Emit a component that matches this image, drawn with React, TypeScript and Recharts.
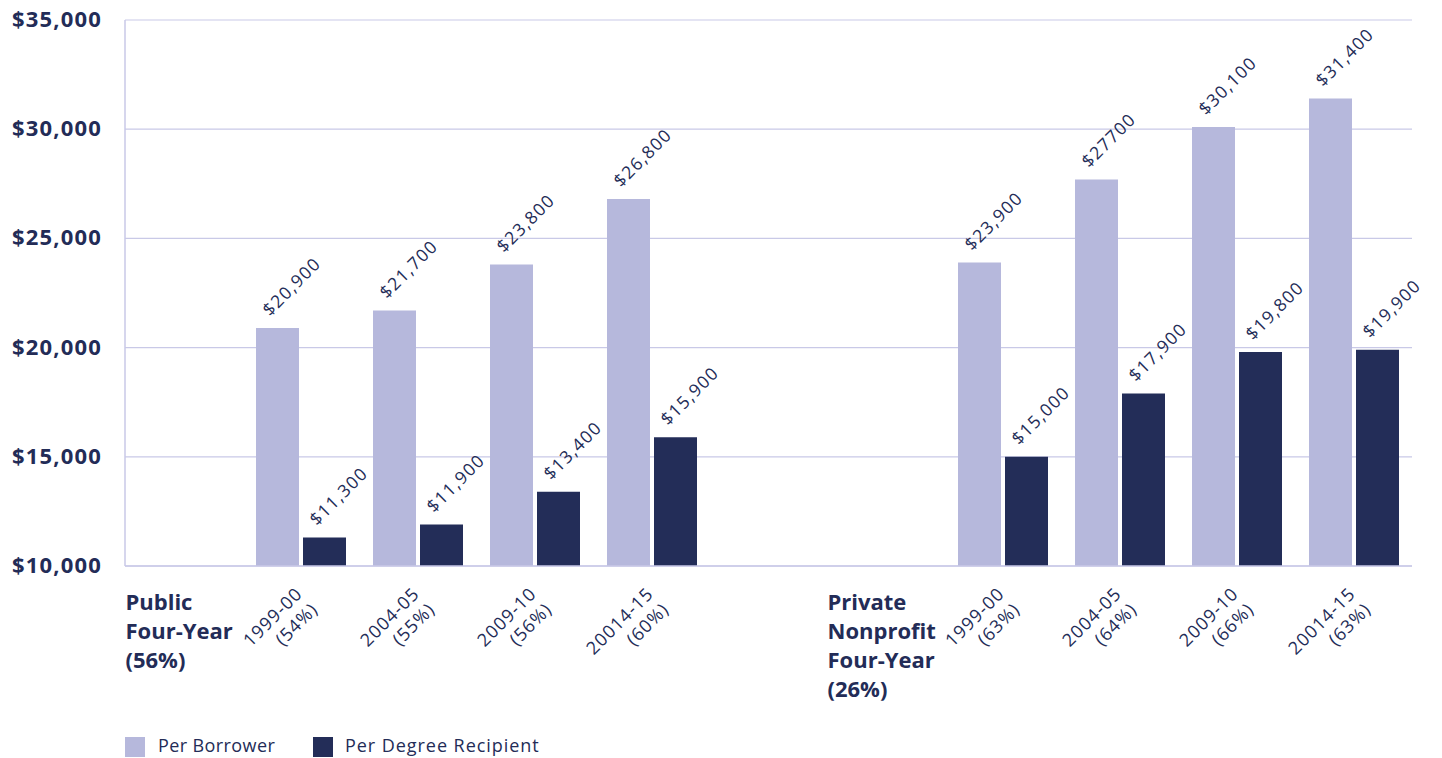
import React from 'react';
import { BarChart, Bar, XAxis, YAxis, CartesianGrid, LabelList, Legend } from 'recharts';

const periods = ['1999-00', '2004-05', '2009-10', '20014-15'];
const publicShares = ['(54%)', '(55%)', '(56%)', '(60%)'];
const privateShares = ['(63%)', '(64%)', '(66%)', '(63%)'];
const publicGroupLines = ['Public', 'Four-Year', '(56%)'];
const privateGroupLines = ['Private', 'Nonprofit', 'Four-Year', '(26%)'];

const publicPerBorrower = [20900, 21700, 23800, 26800];
const publicPerDegree = [11300, 11900, 13400, 15900];
const privatePerBorrower = [23900, 27700, 30100, 31400];
const privatePerDegree = [15000, 17900, 19800, 19900];

const publicBorrowerText = ['$20,900', '$21,700', '$23,800', '$26,800'];
const publicDegreeText = ['$11,300', '$11,900', '$13,400', '$15,900'];
const privateBorrowerText = ['$23,900', '$27700', '$30,100', '$31,400'];
const privateDegreeText = ['$15,000', '$17,900', '$19,800', '$19,900'];

const yTicks = [10000, 15000, 20000, 25000, 30000, 35000];
const yTickText = ['$10,000', '$15,000', '$20,000', '$25,000', '$30,000', '$35,000'];

const seriesNames = ['Per Borrower', 'Per Degree Recipient'];

const LIGHT = '#b6b8dc';
const DARK = '#232d58';
const TEXT = '#232c57';
const GRID = '#c9c9e7';
const FONT = "'Open Sans', sans-serif";

type Row = {
  key: string;
  kind: 'group' | 'period' | 'empty';
  lines?: string[];
  period?: string;
  share?: string;
  borrower: number | null;
  degree: number | null;
  borrowerText?: string;
  degreeText?: string;
};

const rows: Row[] = [
  { key: 'g-public', kind: 'group', lines: publicGroupLines, borrower: null, degree: null },
  ...periods.map((p, i) => ({
    key: 'pub-' + p,
    kind: 'period' as const,
    period: p,
    share: publicShares[i],
    borrower: publicPerBorrower[i],
    degree: publicPerDegree[i],
    borrowerText: publicBorrowerText[i],
    degreeText: publicDegreeText[i],
  })),
  { key: 'empty', kind: 'empty', borrower: null, degree: null },
  { key: 'g-private', kind: 'group', lines: privateGroupLines, borrower: null, degree: null },
  ...periods.map((p, i) => ({
    key: 'priv-' + p,
    kind: 'period' as const,
    period: p,
    share: privateShares[i],
    borrower: privatePerBorrower[i],
    degree: privatePerDegree[i],
    borrowerText: privateBorrowerText[i],
    degreeText: privateDegreeText[i],
  })),
];

const XTick = (props: any) => {
  const { x, y, payload } = props;
  const row = rows[payload.index];
  if (!row) return null;
  if (row.kind === 'group') {
    const left = x - 58.5 + 0.5;
    return (
      <text x={left} y={y} fill={TEXT} fontFamily={FONT} fontWeight={700} fontSize={22} textAnchor="start">
        {(row.lines || []).map((l, i) => (
          <tspan key={i} x={left} y={y + 44 + i * 29}>
            {l}
          </tspan>
        ))}
      </text>
    );
  }
  if (row.kind === 'period') {
    const ax = x + 3;
    const ay = y + 29;
    return (
      <text
        transform={`rotate(-45 ${ax} ${ay})`}
        x={ax}
        y={ay}
        fill={TEXT}
        fontFamily={FONT}
        fontWeight={400}
        fontSize={18}
        letterSpacing={1}
        textAnchor="end"
      >
        <tspan x={ax} y={ay}>{row.period}</tspan>
        <tspan x={ax} y={ay + 22}>{row.share}</tspan>
      </text>
    );
  }
  return null;
};

const YTick = (props: any) => {
  const { y, payload } = props;
  const idx = yTicks.indexOf(payload.value);
  return (
    <text x={12} y={y + 7} fill={TEXT} fontFamily={FONT} fontWeight={700} fontSize={22} letterSpacing={1.2} textAnchor="start">
      {yTickText[idx]}
    </text>
  );
};

const BarLabel = (props: any) => {
  const { x, y, value } = props;
  if (value == null || value === '') return null;
  const lx = x + 14;
  const ly = y - 11;
  return (
    <text
      transform={`rotate(-45 ${lx} ${ly})`}
      x={lx}
      y={ly}
      fill={TEXT}
      fontFamily={FONT}
      fontWeight={400}
      fontSize={17.5}
      letterSpacing={1.3}
      textAnchor="start"
    >
      {value}
    </text>
  );
};

const LegendContent = () => (
  <div style={{ position: 'relative', height: 40, width: 1442, fontFamily: FONT }}>
    <div style={{ position: 'absolute', left: 125, top: 19, width: 20, height: 20, background: LIGHT }} />
    <div style={{ position: 'absolute', left: 158, top: 14, fontSize: 18, letterSpacing: 0.4, color: TEXT, fontWeight: 400, lineHeight: '26px', whiteSpace: 'nowrap' }}>
      {seriesNames[0]}
    </div>
    <div style={{ position: 'absolute', left: 313, top: 19, width: 20, height: 20, background: DARK }} />
    <div style={{ position: 'absolute', left: 345, top: 14, fontSize: 18, letterSpacing: 0.95, color: TEXT, fontWeight: 400, lineHeight: '26px', whiteSpace: 'nowrap' }}>
      {seriesNames[1]}
    </div>
  </div>
);

export default function App() {
  return (
    <div style={{ position: 'absolute', left: 0, top: 0, width: 1442, height: 758, background: '#fff' }}>
      <BarChart
        width={1442}
        height={758}
        data={rows}
        margin={{ top: 20, right: 30, left: 12, bottom: 0 }}
        barSize={43}
        barGap={4}
      >
        <CartesianGrid vertical={false} stroke={GRID} strokeWidth={1.2} />
        <XAxis
          dataKey="key"
          interval={0}
          tick={<XTick />}
          tickLine={false}
          tickSize={0}
          tickMargin={0}
          axisLine={{ stroke: GRID, strokeWidth: 1.5 }}
          height={152}
        />
        <YAxis
          domain={[10000, 35000]}
          ticks={yTicks}
          interval={0}
          width={113}
          tick={<YTick />}
          tickLine={false}
          axisLine={{ stroke: GRID, strokeWidth: 1.5 }}
        />
        <Legend verticalAlign="bottom" align="left" height={40} content={<LegendContent />} wrapperStyle={{ left: 0, bottom: 0, width: 1442, height: 40 }} />
        <Bar dataKey="borrower" name={seriesNames[0]} fill={LIGHT} isAnimationActive={false}>
          <LabelList dataKey="borrowerText" content={<BarLabel />} />
        </Bar>
        <Bar dataKey="degree" name={seriesNames[1]} fill={DARK} isAnimationActive={false}>
          <LabelList dataKey="degreeText" content={<BarLabel />} />
        </Bar>
      </BarChart>
    </div>
  );
}
